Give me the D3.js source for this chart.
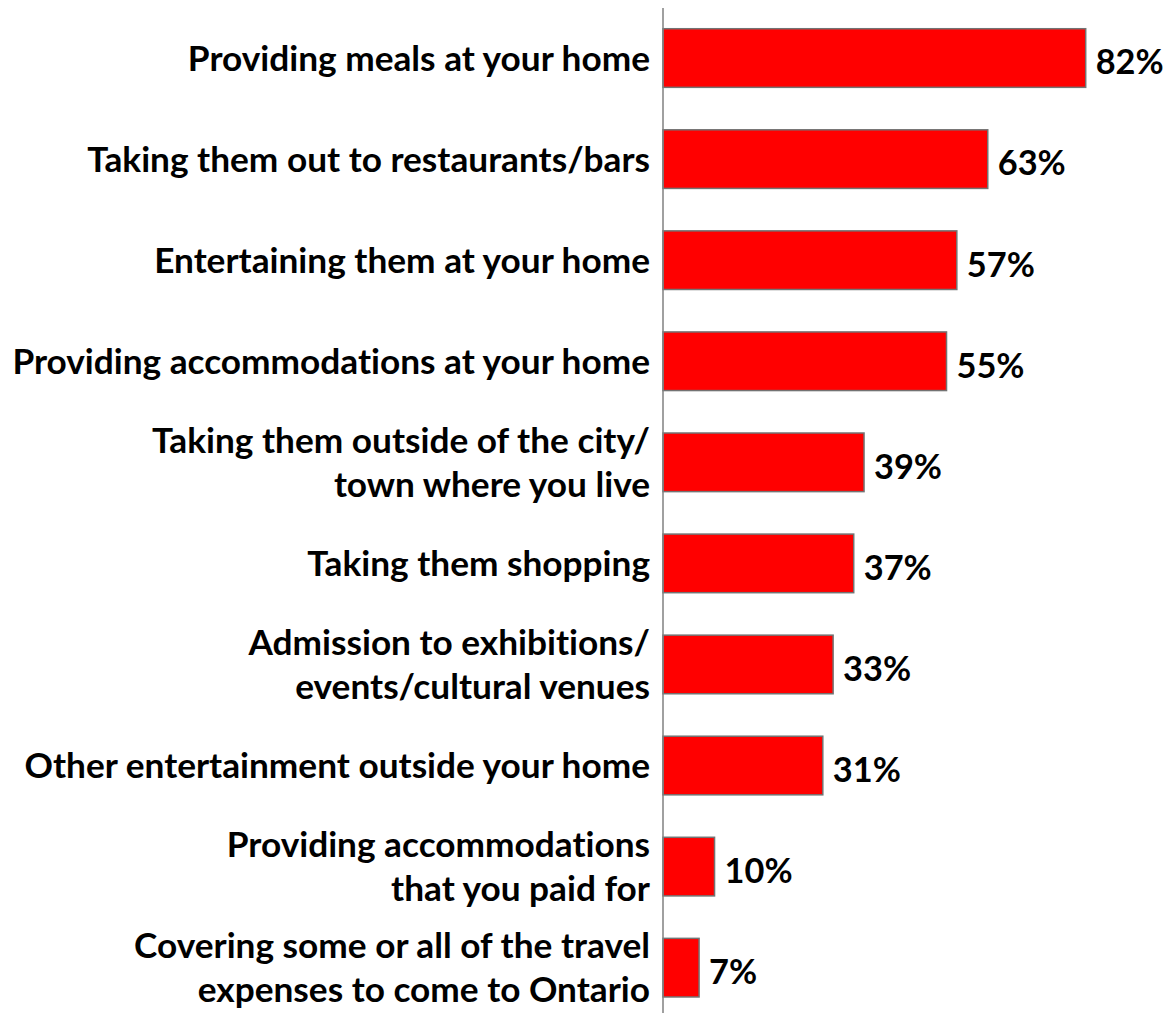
<!DOCTYPE html>
<html>
<head>
<meta charset="utf-8">
<script src="https://cdn.jsdelivr.net/npm/d3@7"></script>
<style>
  html, body { margin: 0; padding: 0; background: #fff; }
  svg { display: block; }
  text { font-variant-ligatures: none; font-feature-settings: "liga" 0, "clig" 0; }
</style>
</head>
<body>
<svg id="chart" width="1167" height="1013"></svg>
<script>
// ---- data ----
const categories = [
  ["Providing meals at your home"],
  ["Taking them out to restaurants/bars"],
  ["Entertaining them at your home"],
  ["Providing accommodations at your home"],
  ["Taking them outside of the city/", "town where you live"],
  ["Taking them shopping"],
  ["Admission to exhibitions/", "events/cultural venues"],
  ["Other entertainment outside your home"],
  ["Providing accommodations", "that you paid for"],
  ["Covering some or all of the travel", "expenses to come to Ontario"]
];
const values = [82, 63, 57, 55, 39, 37, 33, 31, 10, 7];
const valueLabels = ["82%", "63%", "57%", "55%", "39%", "37%", "33%", "31%", "10%", "7%"];

// ---- layout ----
const W = 1167, H = 1013;
const axisX = 663;
const fontFamily = "Lato, 'Open Sans', sans-serif";

const svg = d3.select("#chart");
const keys = categories.map((c, i) => i);

const y = d3.scaleBand()
  .domain(keys)
  .range([7.5, 1018.2])
  .paddingInner(0.42)
  .paddingOuter(0.21);

const x = d3.scaleLinear()
  .domain([0, 100])
  .range([axisX, axisX + 515.5]);

// measure font sizes so text widths match reference
function measure(text, size) {
  const t = svg.append("text")
    .attr("font-family", fontFamily).attr("font-weight", 700)
    .attr("font-size", size).text(text);
  const w = t.node().getComputedTextLength();
  t.remove();
  return w;
}
const catSize = 100 * 638 / measure("Providing accommodations at your home", 100);
const valSize = 100 * 68 / measure("63%", 100);

// bars
svg.append("g").selectAll("rect")
  .data(values)
  .join("rect")
  .attr("x", x(0))
  .attr("y", (d, i) => y(i))
  .attr("width", d => x(d) - x(0))
  .attr("height", y.bandwidth())
  .attr("fill", "#ff0000")
  .attr("stroke", "#737373")
  .attr("stroke-width", 1.5);

// axis line
const yAxis = d3.axisLeft(y).tickSize(0).tickFormat("");
const gAxis = svg.append("g").attr("transform", `translate(${axisX},0)`).call(yAxis);
gAxis.select(".domain").attr("stroke", "#808080").attr("stroke-width", 1.5)
  .attr("d", `M0,8V${H}`);

// category labels (each line its own text element)
const lineH = Math.ceil(catSize * 1.21) + 1;
const catG = svg.append("g")
  .attr("font-family", fontFamily)
  .attr("font-weight", 700)
  .attr("font-size", catSize)
  .attr("fill", "#000")
  .attr("text-anchor", "end");
categories.forEach((lines, i) => {
  const cy = y(i) + y.bandwidth() / 2;
  lines.forEach((ln, j) => {
    const off = (j - (lines.length - 1) / 2) * lineH;
    catG.append("text")
      .attr("x", 650)
      .attr("y", cy + off + catSize * 0.36)
      .text(ln);
  });
});

// value labels
svg.append("g")
  .attr("font-family", fontFamily)
  .attr("font-weight", 700)
  .attr("font-size", valSize)
  .attr("fill", "#000")
  .selectAll("text")
  .data(values)
  .join("text")
  .attr("x", d => x(d) + 10)
  .attr("y", (d, i) => y(i) + y.bandwidth() / 2 + valSize * 0.36 + 4)
  .text((d, i) => valueLabels[i]);
</script>
</body>
</html>
